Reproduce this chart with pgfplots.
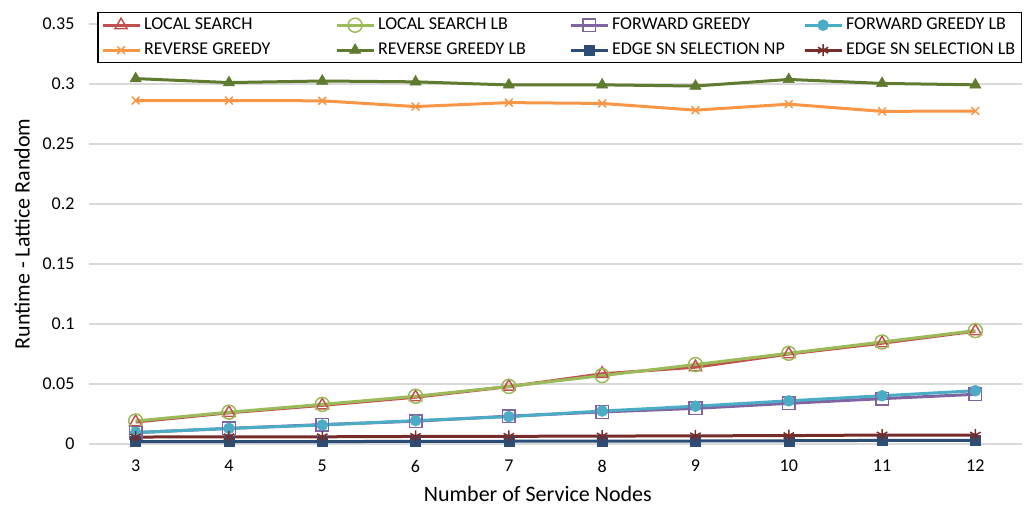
\documentclass[border=0pt]{standalone}
\usepackage{fontspec}
\setmainfont{Carlito}
\usepackage{pgfplots}
\pgfplotsset{compat=1.18}
\usetikzlibrary{calc}

\definecolor{lsred}{HTML}{C0504D}
\definecolor{lsgreen}{HTML}{9BBB59}
\definecolor{fgpurple}{HTML}{8064A2}
\definecolor{fgcyan}{HTML}{4BACC6}
\definecolor{rgorange}{HTML}{F79646}
\definecolor{rgolive}{HTML}{5E7B2F}
\definecolor{edgenavy}{HTML}{2C4D75}
\definecolor{edgered}{HTML}{772C2A}
\definecolor{gridgray}{HTML}{D9D9D9}

\newcommand{\cell}[1]{\makebox[188pt][l]{#1}}

\begin{document}
\begin{tikzpicture}
\begin{axis}[
  name=main,
  scale only axis,
  width=933pt, height=420pt,
  xmin=2.5, xmax=12.5,
  ymin=0, ymax=0.35,
  xtick={3,4,5,6,7,8,9,10,11,12},
  ytick={0,0.05,0.1,0.15,0.2,0.25,0.3,0.35},
  axis line style={draw=none},
  major tick length=0pt,
  ymajorgrids,
  grid style={color=gridgray, line width=1.2pt},
  /pgf/number format/assume math mode=true,
  yticklabel style={/pgf/number format/fixed, /pgf/number format/precision=2, xshift=-11pt},
  xticklabel style={yshift=-12.5pt},
  every tick label/.append style={font=\fontsize{18}{21}\selectfont},
  label style={font=\fontsize{22}{26}\selectfont},
  xlabel={Number of Service Nodes},
  ylabel={Runtime - Lattice Random},
  xlabel style={at={(axis description cs:0.481,-0.119)}, anchor=center},
  ylabel style={at={(axis description cs:-0.0718,0.5)}, anchor=center, rotate=0},
  legend columns=4,
  legend image code/.code={%
    \draw[mark repeat=2,mark phase=2] plot coordinates {(0pt,0pt) (18.5pt,0pt) (37pt,0pt)};},
  legend style={
    at={(axis description cs:1,1)}, anchor=north east, yshift=12pt,
    fill=white,
    inner xsep=3pt, inner ysep=0pt,
    font=\fontsize{18}{21}\selectfont,
    nodes={inner xsep=3pt, inner ysep=4pt, text height=13pt, text depth=4pt},
    column sep=0pt, row sep=0pt},
  every axis legend/.append style={draw=black, line width=1.4pt},
  legend cell align=left,
]

% Local search
\addplot[color=lsred, line width=3pt, mark=triangle, mark size=7pt, mark options={line width=1.5pt, fill=none}]
  coordinates {(3,0.0183) (4,0.026) (5,0.0322) (6,0.039) (7,0.0478) (8,0.0585) (9,0.064) (10,0.075) (11,0.084) (12,0.094)};
\addlegendentry{\cell{LOCAL SEARCH}}

% Local search lower bound
\addplot[color=lsgreen, line width=3pt, mark=o, mark size=7pt, mark options={line width=1.5pt, fill=none}]
  coordinates {(3,0.0192) (4,0.0265) (5,0.033) (6,0.0398) (7,0.048) (8,0.057) (9,0.0662) (10,0.0756) (11,0.085) (12,0.0945)};
\addlegendentry{\cell{LOCAL SEARCH LB}}

% Forward greedy
\addplot[color=fgpurple, line width=3pt, mark=square, mark size=6.3pt, mark options={line width=1.5pt, fill=none}]
  coordinates {(3,0.0095) (4,0.013) (5,0.0162) (6,0.019) (7,0.0232) (8,0.0267) (9,0.0297) (10,0.0339) (11,0.0378) (12,0.0414)};
\addlegendentry{\cell{FORWARD GREEDY}}

% Forward greedy lower bound
\addplot[color=fgcyan, line width=3pt, mark=*, mark size=5.5pt, mark options={line width=0.5pt}]
  coordinates {(3,0.0095) (4,0.013) (5,0.0158) (6,0.0195) (7,0.0228) (8,0.0275) (9,0.0315) (10,0.036) (11,0.0402) (12,0.0444)};
\addlegendentry{FORWARD GREEDY LB}

% Reverse greedy
\addplot[color=rgorange, line width=3pt, mark=x, mark size=5.5pt, mark options={line width=1.5pt}]
  coordinates {(3,0.2862) (4,0.2862) (5,0.286) (6,0.2812) (7,0.2845) (8,0.2838) (9,0.2782) (10,0.2832) (11,0.2772) (12,0.2775)};
\addlegendentry{\cell{REVERSE GREEDY}}

% Reverse greedy lower bound
\addplot[color=rgolive, line width=3pt, mark=triangle*, mark size=6.5pt, mark options={line width=0.5pt}]
  coordinates {(3,0.3045) (4,0.3012) (5,0.3025) (6,0.3018) (7,0.2992) (8,0.2993) (9,0.2983) (10,0.3038) (11,0.3005) (12,0.2993)};
\addlegendentry{\cell{REVERSE GREEDY LB}}

% Edge SN selection (NP)
\addplot[color=edgenavy, line width=3pt, mark=square*, mark size=5pt, mark options={line width=0.5pt}]
  coordinates {(3,0.002) (4,0.002) (5,0.002) (6,0.0022) (7,0.0023) (8,0.0024) (9,0.0025) (10,0.0027) (11,0.003) (12,0.003)};
\addlegendentry{\cell{EDGE SN SELECTION NP}}

% Edge SN selection lower bound
\addplot[color=edgered, line width=3pt, mark=asterisk, mark size=6pt, mark options={line width=1.5pt}]
  coordinates {(3,0.0058) (4,0.006) (5,0.006) (6,0.0063) (7,0.0064) (8,0.0066) (9,0.0068) (10,0.007) (11,0.0075) (12,0.0074)};
\addlegendentry{EDGE SN SELECTION LB}

\end{axis}
\pgfresetboundingbox
\path[use as bounding box] ($(main.south west)+(-89pt,-63pt)$) rectangle ($(main.south west)+(938pt,444pt)$);
\end{tikzpicture}
\end{document}
